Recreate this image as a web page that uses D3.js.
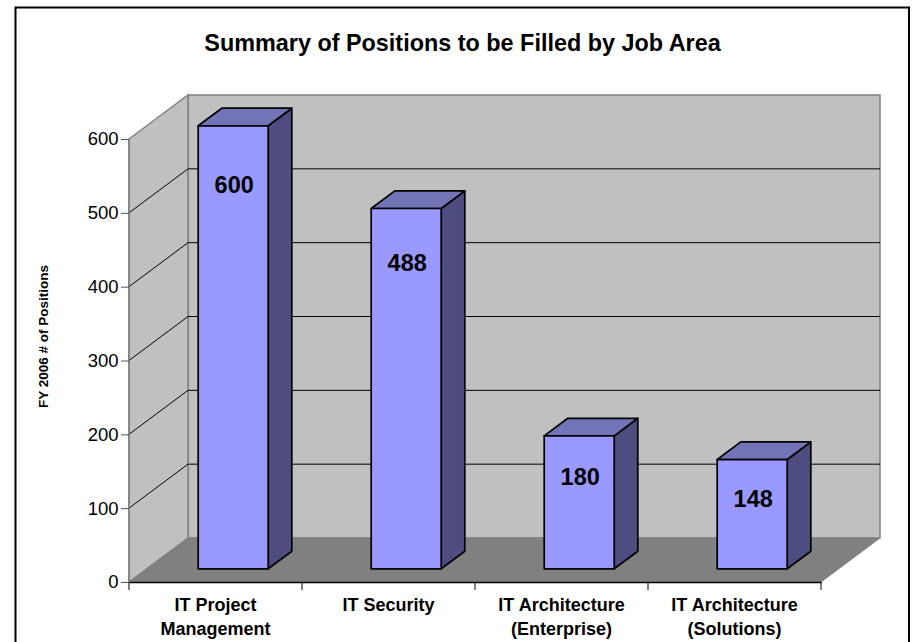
<!DOCTYPE html>
<html>
<head>
<meta charset="utf-8">
<style>
  html, body { margin: 0; padding: 0; background: #fff; overflow: hidden; }
  svg { display: block; }
  text { font-family: "Liberation Sans", Arial, sans-serif; fill: #000; }
</style>
<script src="https://cdn.jsdelivr.net/npm/d3@7"></script>
</head>
<body>
<div id="chart"></div>
<script>
const categories = [
  ['IT Project', 'Management'],
  ['IT Security'],
  ['IT Architecture', '(Enterprise)'],
  ['IT Architecture', '(Solutions)']
];
const positions = [600, 488, 180, 148];
const yTicks = [0, 100, 200, 300, 400, 500, 600];

const width = 913;
const height = 642;

const el = d3.select('#chart').append('svg')
  .attr('width', width)
  .attr('height', height);

// chart frame, runs off the bottom of the picture
el.append('rect')
  .attr('x', 15.5)
  .attr('y', 7.5)
  .attr('width', 893.5)
  .attr('height', 660)
  .attr('fill', '#fff')
  .attr('stroke', '#000')
  .attr('stroke-width', 2);

const xScale = d3.scaleBand()
  .domain(d3.range(categories.length))
  .range([129, 821]);
const yScale = d3.scaleLinear()
  .domain([0, 600])
  .range([582, 139]);

// fake 3d: how far the back wall is shifted from the front plane
const depthX = 59;
const depthY = -44;
const shift = (x, y, f) => [x + depthX * f, y + depthY * f];
const poly = pts => pts.map(p => p.join(',')).join(' ');

const x0 = xScale.range()[0];
const x1 = xScale.range()[1];
const yBase = yScale(0);
const yTop = yScale(600);
const wallColor = '#808080';

// back wall
el.append('polygon')
  .attr('points', poly([
    shift(x0, yTop, 1), shift(x1, yTop, 1), shift(x1, yBase, 1), shift(x0, yBase, 1)
  ]))
  .attr('fill', '#c0c0c0')
  .attr('stroke', wallColor)
  .attr('stroke-width', 1.5);

// side wall
el.append('polygon')
  .attr('points', poly([
    [x0, yTop], shift(x0, yTop, 1), shift(x0, yBase, 1), [x0, yBase]
  ]))
  .attr('fill', '#c0c0c0')
  .attr('stroke', wallColor)
  .attr('stroke-width', 1.5);

// floor
el.append('polygon')
  .attr('points', poly([
    [x0, yBase], shift(x0, yBase, 1), shift(x1, yBase, 1), [x1, yBase]
  ]))
  .attr('fill', '#808080')
  .attr('stroke', wallColor)
  .attr('stroke-width', 1);

// gridlines, side wall then back wall
const grid = yTicks.filter(d => d !== 0 && d !== 600);
el.append('g').selectAll('path')
  .data(grid)
  .join('path')
  .attr('fill', 'none')
  .attr('stroke', '#000')
  .attr('stroke-width', 1)
  .attr('d', d => {
    const y = yScale(d);
    return d3.line()([[x0, y], shift(x0, y, 1), shift(x1, y, 1)]);
  });

// axes
const xAxis = d3.axisBottom(xScale).tickSize(0).tickFormat('');
const xAxisG = el.append('g')
  .attr('transform', `translate(0, ${yBase})`)
  .call(xAxis);
xAxisG.select('.domain').attr('stroke', '#000').attr('stroke-width', 1.5);
xAxisG.selectAll('.tick').remove();
el.append('g').selectAll('line')
  .data(d3.range(categories.length + 1))
  .join('line')
  .attr('x1', i => x0 + xScale.step() * i)
  .attr('x2', i => x0 + xScale.step() * i)
  .attr('y1', yBase)
  .attr('y2', yBase + 8)
  .attr('stroke', '#000')
  .attr('stroke-width', 1);

const yAxis = d3.axisLeft(yScale)
  .tickValues(yTicks)
  .tickSize(8)
  .tickPadding(2.4);
const yAxisG = el.append('g')
  .attr('transform', `translate(${x0}, 0)`)
  .call(yAxis);
yAxisG.select('.domain').attr('stroke', wallColor).attr('stroke-width', 1.5)
  .attr('d', `M0,${yTop}V${yBase}`);
yAxisG.selectAll('.tick line').attr('stroke', '#555').attr('stroke-width', 1);
yAxisG.selectAll('.tick text')
  .style('font-family', '"Liberation Sans", Arial, sans-serif')
  .style('font-size', '18.5px');

// bars
const barWidth = 70;
const barF = 0.30;
const barDepth = 0.40;
const bars = el.append('g').selectAll('g')
  .data(positions)
  .join('g');

const corners = (d, i) => {
  const mid = xScale(i) + xScale.bandwidth() / 2;
  const [l, b] = shift(mid - barWidth / 2, yScale(0), barF);
  const r = l + barWidth;
  const t = b - (yScale(0) - yScale(d));
  return {l, r, t, b, dx: depthX * barDepth, dy: depthY * barDepth};
};

bars.append('polygon')
  .attr('points', (d, i) => {
    const c = corners(d, i);
    return poly([[c.r, c.t], [c.r + c.dx, c.t + c.dy], [c.r + c.dx, c.b + c.dy], [c.r, c.b]]);
  })
  .attr('fill', '#4d4d80');
bars.append('polygon')
  .attr('points', (d, i) => {
    const c = corners(d, i);
    return poly([[c.l, c.t], [c.l + c.dx, c.t + c.dy], [c.r + c.dx, c.t + c.dy], [c.r, c.t]]);
  })
  .attr('fill', '#7373b8');
bars.append('polygon')
  .attr('points', (d, i) => {
    const c = corners(d, i);
    return poly([[c.l, c.t], [c.r, c.t], [c.r, c.b], [c.l, c.b]]);
  })
  .attr('fill', '#9999ff');
bars.selectAll('polygon')
  .attr('stroke', '#000')
  .attr('stroke-width', 1.7)
  .attr('stroke-linejoin', 'round');

// labels sit lower in tall bars than in short ones
bars.append('text')
  .attr('x', (d, i) => corners(d, i).l + barWidth / 2 + 1)
  .attr('y', (d, i) => {
    const c = corners(d, i);
    return c.t + 41.5 + 0.057 * (c.b - c.t);
  })
  .attr('text-anchor', 'middle')
  .style('font-size', '23.5px')
  .style('font-weight', 'bold')
  .text(d => d);

// category labels
el.append('g').selectAll('text')
  .data(categories)
  .join('text')
  .attr('text-anchor', 'middle')
  .style('font-size', '18px')
  .style('font-weight', 'bold')
  .attr('x', (d, i) => xScale(i) + xScale.bandwidth() / 2)
  .attr('y', 611)
  .selectAll('tspan')
  .data(d => d)
  .join('tspan')
  .attr('x', function() { return d3.select(this.parentNode).attr('x'); })
  .attr('dy', (d, i) => i ? 24 : 0)
  .text(d => d);

el.append('text')
  .attr('x', 462.5)
  .attr('y', 51)
  .attr('text-anchor', 'middle')
  .style('font-size', '23.4px')
  .style('font-weight', 'bold')
  .text('Summary of Positions to be Filled by Job Area');

el.append('text')
  .attr('transform', 'translate(47.5, 336.5) rotate(-90)')
  .attr('text-anchor', 'middle')
  .style('font-size', '13.5px')
  .style('font-weight', 'bold')
  .text('FY 2006 # of Positions');
</script>
</body>
</html>
